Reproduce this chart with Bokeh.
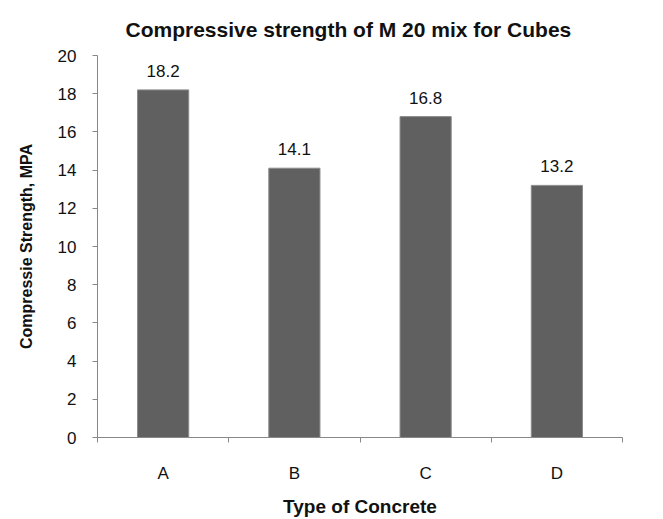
from bokeh.plotting import figure
from bokeh.models import ColumnDataSource, FixedTicker, Range1d
from bokeh.core.properties import value
from bokeh.embed import file_html
from bokeh.resources import INLINE

title_text = "Compressive strength of M 20 mix for Cubes"
categories = ["A", "B", "C", "D"]
strength = [18.2, 14.1, 16.8, 13.2]
y_ticks = [0, 2, 4, 6, 8, 10, 12, 14, 16, 18, 20]

xs = [i + 0.5 for i in range(len(categories))]
src = ColumnDataSource(dict(x=xs, top=strength, label=[f"{v:.1f}" for v in strength]))

p = figure(width=663, height=519, output_backend="svg", toolbar_location=None,
           x_range=Range1d(0, len(categories)), y_range=Range1d(0, 20),
           min_border_left=97, min_border_right=41, min_border_top=55, min_border_bottom=81,
           title=title_text)
p.title.align = "left"
p.title.offset = 28
p.title.text_font = "Liberation Sans"
p.title.text_font_size = "21px"
p.title.text_font_style = "bold"
p.title.text_color = "#111111"
p.title.standoff = 29
p.outline_line_color = None
p.xgrid.visible = False
p.ygrid.visible = False

p.vbar(x="x", top="top", width=0.39, source=src, fill_color="#606060", line_color="#8c8c8c", line_width=1)
p.text(x="x", y="top", text="label", source=src, text_align="center", text_baseline="bottom",
       y_offset=-13, text_font=value("Liberation Sans"), text_font_size="17px", text_color="#111111")

ax = p.xaxis[0]
ax.ticker = FixedTicker(ticks=xs, minor_ticks=list(range(len(categories) + 1)))
ax.major_label_overrides = {x: c for x, c in zip(xs, categories)}
ax.major_tick_out = 0
ax.major_tick_in = 0
ax.minor_tick_out = 5
ax.minor_tick_in = 0
ax.minor_tick_line_color = "#888888"
ax.axis_line_color = "#888888"
ax.major_label_standoff = 21
ax.major_label_text_font = "Liberation Sans"
ax.major_label_text_font_size = "17px"
ax.major_label_text_color = "#111111"
ax.axis_label = "Type of Concrete"
ax.axis_label_text_font = "Liberation Sans"
ax.axis_label_text_font_size = "19px"
ax.axis_label_text_font_style = "bold"
ax.axis_label_text_color = "#111111"
ax.axis_label_standoff = 10

ay = p.yaxis[0]
ay.ticker = FixedTicker(ticks=y_ticks, minor_ticks=[])
ay.major_tick_out = 5
ay.major_tick_in = 0
ay.major_tick_line_color = "#888888"
ay.axis_line_color = "#888888"
ay.major_label_standoff = 16
ay.major_label_text_font = "Liberation Sans"
ay.major_label_text_font_size = "17px"
ay.major_label_text_color = "#111111"
ay.axis_label = "Compressie Strength, MPA"
ay.axis_label_text_font = "Liberation Sans"
ay.axis_label_text_font_size = "16px"
ay.axis_label_text_font_style = "bold"
ay.axis_label_text_color = "#111111"
ay.axis_label_standoff = 20

open("out.html", "w").write(file_html(p, INLINE))
